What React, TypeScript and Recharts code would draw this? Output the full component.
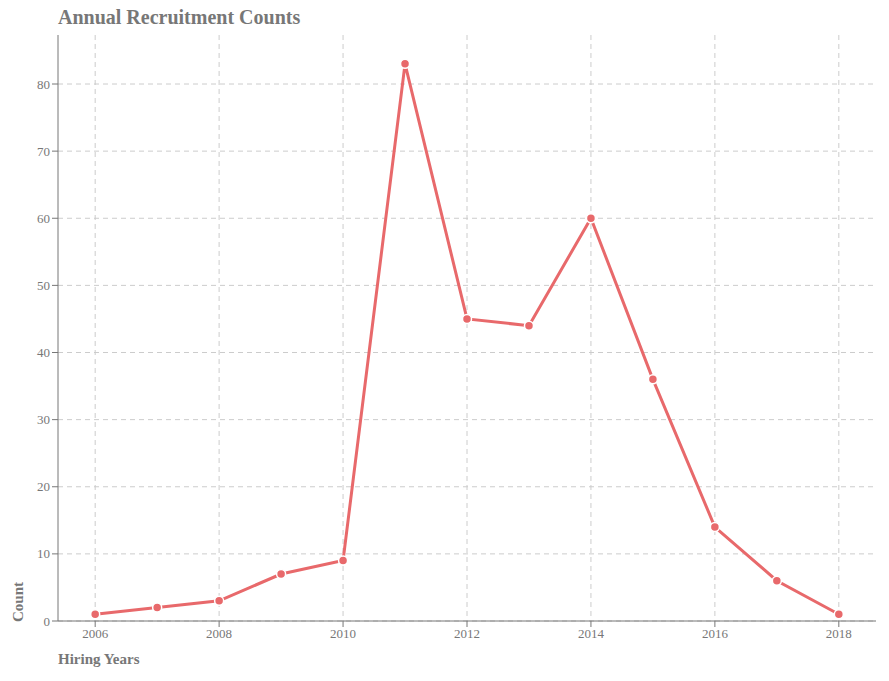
import React from "react";
import { LineChart, Line, XAxis, YAxis, CartesianGrid } from "recharts";

const years = [2006, 2007, 2008, 2009, 2010, 2011, 2012, 2013, 2014, 2015, 2016, 2017, 2018];
const counts = [1, 2, 3, 7, 9, 83, 45, 44, 60, 36, 14, 6, 1];
const xTicks = [2006, 2008, 2010, 2012, 2014, 2016, 2018];
const yTicks = [0, 10, 20, 30, 40, 50, 60, 70, 80];

const data = years.map((y, i) => ({ year: y, count: counts[i] }));
const font = "'Liberation Serif', 'DejaVu Serif', serif";
const tickStyle = { fill: "#777", fontSize: 13, fontFamily: font };

export default function App() {
  return (
    <div style={{ position: "absolute", left: 0, top: 0, width: 889, height: 681, background: "#fff", fontFamily: font }}>
      <div style={{ position: "absolute", left: 58, top: 6, fontSize: 20, fontWeight: "bold", color: "#777" }}>
        Annual Recruitment Counts
      </div>
      <div style={{ position: "absolute", left: 58, top: 651, fontSize: 15, fontWeight: "bold", color: "#777" }}>
        Hiring Years
      </div>
      <div style={{ position: "absolute", left: 10, top: 622, fontSize: 15, fontWeight: "bold", color: "#777", transform: "rotate(-90deg)", transformOrigin: "0 0" }}>
        Count
      </div>
      <LineChart width={889} height={681} data={data} margin={{ top: 35, right: 13, bottom: 30, left: 18 }}>
        <CartesianGrid stroke="#ccc" strokeDasharray="5 4" verticalValues={xTicks} horizontalValues={yTicks} />
        <XAxis dataKey="year" type="number" domain={[2005.4, 2018.6]} ticks={xTicks} tick={tickStyle}
          stroke="#777" tickLine={{ stroke: "#777" }} height={30} />
        <YAxis type="number" domain={[0, 87.3]} ticks={yTicks} tick={tickStyle} stroke="#777"
          tickLine={{ stroke: "#777" }} width={40} allowDataOverflow />
        <Line dataKey="count" stroke="#e8696b" strokeWidth={3} isAnimationActive={false}
          dot={{ r: 4.5, fill: "#e8696b", stroke: "#fff", strokeWidth: 1.5 }} />
      </LineChart>
    </div>
  );
}
